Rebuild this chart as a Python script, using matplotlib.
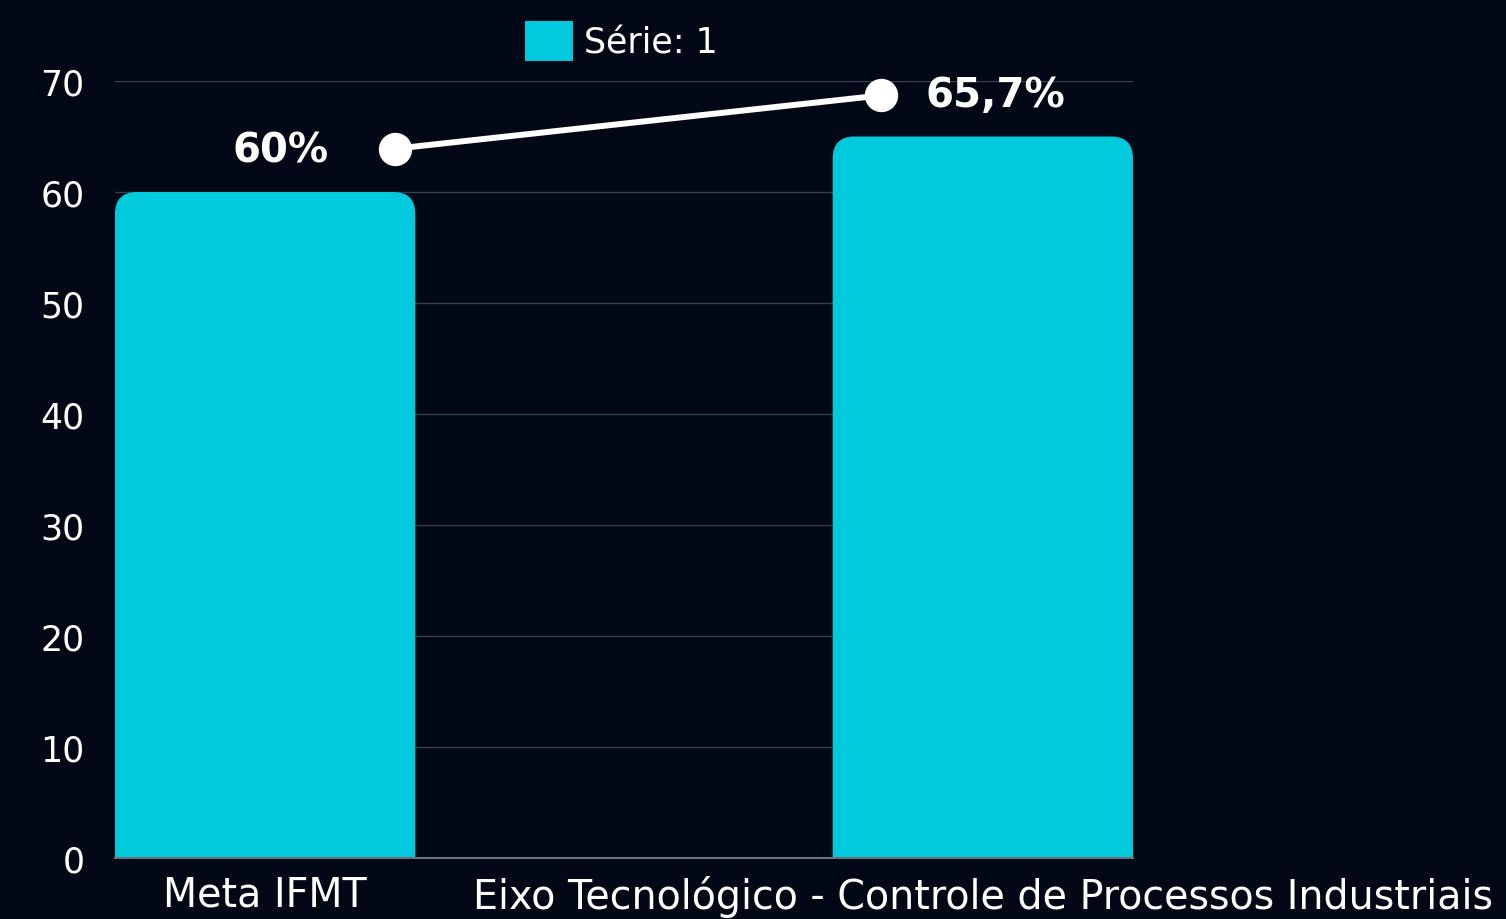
import matplotlib
matplotlib.use("Agg")
import matplotlib.pyplot as plt
from matplotlib.patches import FancyBboxPatch

categories = ["Meta IFMT", "Eixo Tecnológico - Controle de Processos Industriais"]
bar_values = [60, 65]
line_x = [0.181, 0.858]
line_values = [63.9, 68.7]
label_texts = ["60%", "65,7%"]
label_x = [0.021, 1.018]
label_y = [63.7, 68.7]
yticks = [0, 10, 20, 30, 40, 50, 60, 70]
series_name = "Série: 1"

BG = "#020816"
CYAN = "#00CADC"
plt.rcParams['font.family'] = ['DejaVu Sans']

fig = plt.figure(figsize=(15.06, 9.2), dpi=100, facecolor=BG)
ax = fig.add_axes([115/1506, 1-859/920, (1133-115)/1506, (859-82)/920])
ax.set_facecolor(BG)

bw = 0.4184
xs = list(range(len(categories)))
bars = ax.bar(xs, bar_values, width=bw, color=CYAN, label=series_name, zorder=2)
ax.set_xlim(-bw/2, 1 + bw/2)
ax.set_ylim(0, 70)

# rounded tops
px_per_x = 1018 / (1 + bw)
px_per_y = 777 / 70
aspect = px_per_x / px_per_y
r = 22 / px_per_x
for b in bars:
    b.set_visible(False)
    p = FancyBboxPatch((b.get_x(), -5), b.get_width(), b.get_height() + 5,
                       boxstyle=f"round,pad=0,rounding_size={r}",
                       mutation_aspect=aspect, facecolor=CYAN, edgecolor='none',
                       zorder=2)
    ax.add_patch(p)

ax.plot(line_x, line_values, color='white', lw=4.3, marker='o', markersize=23,
        zorder=4, clip_on=False)
for t, x, y in zip(label_texts, label_x, label_y):
    ax.text(x, y, t, color='white', fontsize=29, fontweight='bold',
            ha='center', va='center', zorder=5, clip_on=False)

ax.set_yticks(yticks)
ax.set_xticks(xs)
ax.set_xticklabels(categories)
ax.tick_params(axis='both', length=0, colors='white')
ax.tick_params(axis='y', pad=22, labelsize=25)
ax.tick_params(axis='x', pad=12, labelsize=28.5)
ax.yaxis.grid(True, color='#3a3f4d', lw=1, zorder=0)
ax.set_axisbelow(True)
for s in ['top', 'right', 'left']:
    ax.spines[s].set_visible(False)
ax.spines['bottom'].set_color('#6b7080')
ax.spines['bottom'].set_linewidth(1.5)
ax.spines['bottom'].set_zorder(3)

leg = fig.legend(handles=[bars.patches[0]], labels=[series_name],
                 loc='center', bbox_to_anchor=(621/1506, 1-42/920),
                 frameon=False, fontsize=25, handlelength=1.4, handleheight=1.4,
                 handletextpad=0.3, labelcolor='white')
for h in leg.legend_handles:
    h.set_visible(True)
    h.set_facecolor(CYAN)

fig.savefig("out.png", dpi=100, facecolor=BG)
